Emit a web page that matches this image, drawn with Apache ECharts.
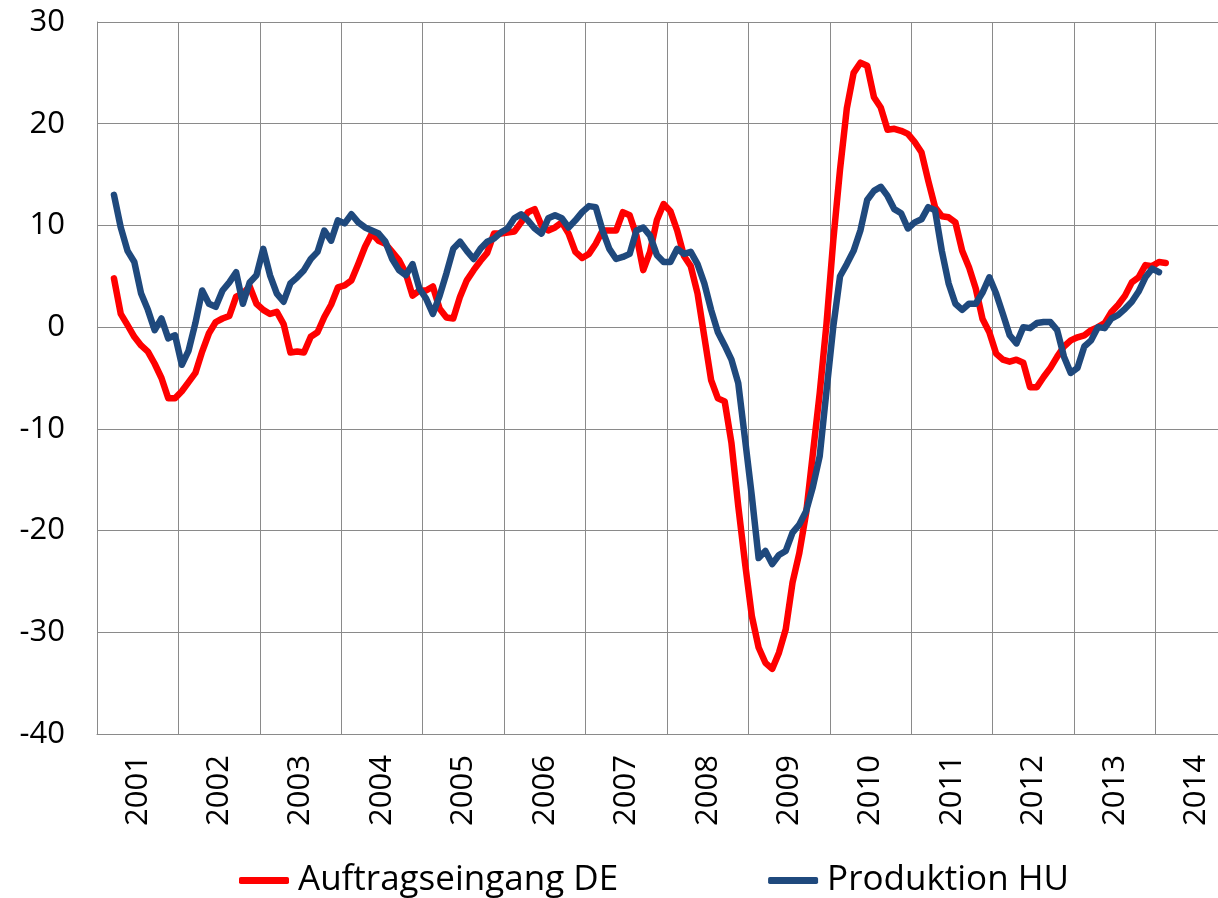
<!DOCTYPE html>
<html>
<head>
<meta charset="utf-8">
<script src="https://cdn.jsdelivr.net/npm/echarts@6/dist/echarts.min.js"></script>
<style>
html,body{margin:0;padding:0;background:#fff;overflow:hidden;width:1218px;height:898px;}
#chart{width:1250px;height:898px;}
</style>
</head>
<body>
<div id="chart"></div>
<script>
// Year tick labels (one band per year)
const years = ['2001','2002','2003','2004','2005','2006','2007','2008','2009','2010','2011','2012','2013','2014'];

// Monthly values, first value = March 2001
const seriesStartMonth = 2; // index of March 2001 in the month list
const auftragseingangDE = [
  4.8, 1.3, 0.2, -0.95, -1.8, -2.4, -3.6, -5.0, -7.0, -7.0,
  -6.3, -5.4, -4.5, -2.4, -0.6, 0.5, 0.85, 1.1, 3.0, 3.3,
  4.0, 2.3, 1.7, 1.3, 1.5, 0.3, -2.5, -2.4, -2.5, -0.95,
  -0.5, 1.0, 2.2, 3.9, 4.1, 4.6, 6.2, 7.9, 9.2, 8.5,
  8.2, 7.4, 6.6, 5.3, 3.1, 3.6, 3.6, 4.0, 1.8, 0.95,
  0.85, 3.0, 4.6, 5.6, 6.5, 7.3, 9.2, 9.2, 9.3, 9.4,
  10.3, 11.3, 11.6, 10.0, 9.5, 9.8, 10.3, 9.2, 7.4, 6.8,
  7.2, 8.2, 9.5, 9.5, 9.5, 11.3, 11.0, 9.0, 5.6, 7.4,
  10.5, 12.1, 11.4, 9.5, 7.0, 6.0, 3.3, -0.95, -5.2, -7.0,
  -7.3, -11.4, -17.6, -23.2, -28.4, -31.5, -33.0, -33.6, -32.0, -29.7,
  -25.1, -22.2, -18.3, -12.4, -6.5, 0.3, 8.5, 15.5, 21.5, 25.0,
  26.0, 25.7, 22.6, 21.6, 19.4, 19.5, 19.3, 19.0, 18.2, 17.2,
  14.4, 11.8, 10.9, 10.8, 10.3, 7.5, 5.9, 3.8, 0.8, -0.5,
  -2.6, -3.2, -3.4, -3.2, -3.5, -5.9, -5.9, -4.9, -4.0, -2.9,
  -1.9, -1.3, -1.0, -0.8, -0.3, 0.0, 0.4, 1.5, 2.2, 3.1,
  4.4, 4.9, 6.1, 6.0, 6.4, 6.3
];
const produktionHU = [
  13.0, 9.8, 7.5, 6.4, 3.3, 1.7, -0.3, 0.85, -1.1, -0.8,
  -3.7, -2.3, 0.4, 3.6, 2.3, 2.0, 3.6, 4.4, 5.4, 2.3,
  4.4, 5.1, 7.7, 5.1, 3.3, 2.5, 4.3, 4.9, 5.6, 6.7,
  7.4, 9.5, 8.5, 10.5, 10.2, 11.1, 10.3, 9.8, 9.5, 9.2,
  8.4, 6.7, 5.6, 5.1, 6.2, 3.8, 2.8, 1.3, 3.1, 5.3,
  7.7, 8.4, 7.5, 6.7, 7.7, 8.4, 8.7, 9.3, 9.7, 10.7,
  11.1, 10.5, 9.7, 9.2, 10.7, 11.0, 10.7, 9.8, 10.5, 11.3,
  11.9, 11.8, 9.5, 7.7, 6.7, 6.9, 7.2, 9.5, 9.8, 9.0,
  7.1, 6.4, 6.4, 7.7, 7.2, 7.4, 6.2, 4.3, 1.7, -0.5,
  -1.8, -3.2, -5.5, -11.0, -16.6, -22.7, -22.0, -23.3, -22.4, -22.0,
  -20.2, -19.4, -18.1, -15.7, -12.7, -6.3, 0.0, 5.0, 6.2, 7.5,
  9.5, 12.5, 13.4, 13.8, 12.9, 11.6, 11.2, 9.7, 10.3, 10.6,
  11.8, 11.5, 7.5, 4.3, 2.3, 1.7, 2.3, 2.3, 3.4, 4.9,
  3.3, 1.3, -0.8, -1.6, 0.0, -0.1, 0.4, 0.5, 0.5, -0.3,
  -2.9, -4.5, -4.0, -1.9, -1.3, 0.0, -0.1, 0.85, 1.2, 1.8,
  2.5, 3.5, 4.9, 5.75, 5.4
];
const seriesNames = ['Auftragseingang DE', 'Produktion HU'];
const yTicks = { min: -40, max: 30, step: 10 };

// month categories built from the years
const months = [];
years.forEach(y => { for (let m = 1; m <= 12; m++) months.push(y + '-' + String(m).padStart(2, '0')); });
function pad(values) {
  const out = new Array(months.length).fill(null);
  values.forEach((v, k) => { out[seriesStartMonth + k] = v; });
  return out;
}

const FONT = '"Open Sans", "Noto Sans", sans-serif';
const GRID_COLOR = '#8a8a8a';

const chart = echarts.init(document.getElementById('chart'), null, { renderer: 'canvas' });
chart.setOption({
  animation: false,
  backgroundColor: '#ffffff',
  grid: { left: 97, top: 22, width: 1140, height: 712, containLabel: false },
  legend: {
    left: 234, top: 858,
    itemWidth: 50, itemHeight: 7, itemGap: 150,
    icon: 'roundRect',
    data: seriesNames,
    textStyle: { fontFamily: FONT, fontSize: 35, color: '#000', padding: [0, 0, 0, 4] }
  },
  xAxis: [
    {
      type: 'category', data: years, boundaryGap: true, position: 'bottom',
      axisLine: { show: true, onZero: false, lineStyle: { color: GRID_COLOR, width: 1 } },
      axisTick: { show: false },
      axisLabel: { interval: 0, rotate: 90, margin: 21, fontFamily: FONT, fontSize: 31, color: '#000' },
      splitLine: { show: true, interval: 0, lineStyle: { color: GRID_COLOR, width: 1 } }
    },
    {
      type: 'category', data: months, boundaryGap: true, show: false
    }
  ],
  yAxis: {
    type: 'value', min: yTicks.min, max: yTicks.max, interval: yTicks.step,
    axisLine: { show: true, lineStyle: { color: GRID_COLOR, width: 1 } },
    axisTick: { show: false },
    axisLabel: { margin: 32, fontFamily: FONT, fontSize: 31, color: '#000' },
    splitLine: { show: true, lineStyle: { color: GRID_COLOR, width: 1 } }
  },
  series: [
    {
      name: seriesNames[0], type: 'line', xAxisIndex: 1, data: pad(auftragseingangDE),
      showSymbol: false, symbol: 'none', smooth: false, connectNulls: false,
      lineStyle: { color: '#FF0000', width: 6.5, cap: 'round', join: 'round' },
      itemStyle: { color: '#FF0000' }
    },
    {
      name: seriesNames[1], type: 'line', xAxisIndex: 1, data: pad(produktionHU),
      showSymbol: false, symbol: 'none', smooth: false, connectNulls: false,
      lineStyle: { color: '#1F497D', width: 6.5, cap: 'round', join: 'round' },
      itemStyle: { color: '#1F497D' }
    }
  ]
});
</script>
</body>
</html>
